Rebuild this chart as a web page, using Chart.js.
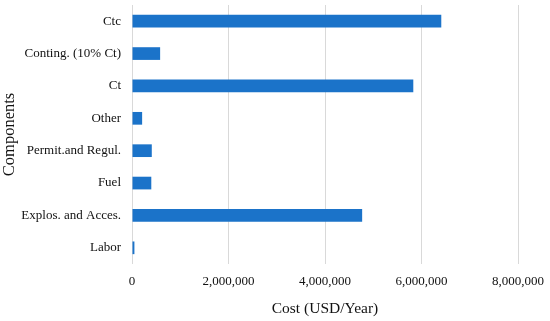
<!DOCTYPE html>
<html>
<head>
<meta charset="UTF-8">
<title>Cost components</title>
<script src="https://cdn.jsdelivr.net/npm/chart.js@4"></script>
<style>
  html, body { margin: 0; padding: 0; background: #fff; }
</style>
</head>
<body>
<canvas id="grafico" width="550" height="321"></canvas>
<script>
  // categories, top to bottom
  var componentes = ["Ctc", "Conting. (10% Ct)", "Ct", "Other", "Permit.and Regul.", "Fuel", "Explos. and Acces.", "Labor"];
  // cost in USD/year
  var custos = [6410000, 583000, 5830000, 210000, 410000, 400000, 4770000, 50000];
  var xTicks = [0, 2000000, 4000000, 6000000, 8000000];

  var fonte = "'Liberation Serif', 'Times New Roman', serif";

  var ctx = document.getElementById("grafico");
  new Chart(ctx, {
    type: 'bar',
    data: {
      labels: componentes,
      datasets: [{
        data: custos,
        backgroundColor: "#1b73c9",
        borderWidth: 0,
        categoryPercentage: 0.8,
        barPercentage: 0.49
      }]
    },
    options: {
      indexAxis: 'y',
      responsive: false,
      animation: false,
      devicePixelRatio: 1,
      layout: { padding: { top: 5, right: 0, bottom: 0, left: 0 } },
      plugins: { legend: { display: false }, tooltip: { enabled: false } },
      scales: {
        x: {
          min: 0, max: 8000000,
          afterBuildTicks: function(axis) { axis.ticks = xTicks.map(function(v) { return { value: v }; }); },
          afterFit: function(s) { s.height = 57; s.paddingRight = 32; s.paddingLeft = 0; },
          grid: { color: "#d9d9d9", drawTicks: false, lineWidth: 1 },
          border: { display: false },
          ticks: {
            color: "#111", padding: 10,
            font: { family: fonte, size: 13 },
            callback: function(v) { return Number(v).toLocaleString('en-US'); }
          },
          title: { display: true, text: "Cost (USD/Year)", color: "#111", font: { family: fonte, size: 15.5 }, padding: { top: 0, bottom: 3 } }
        },
        y: {
          afterFit: function(s) { s.width = 132; s.paddingTop = 0; s.paddingBottom = 0; },
          grid: { display: false, drawTicks: false },
          border: { display: false },
          ticks: { color: "#111", padding: 11, font: { family: fonte, size: 13 } },
          title: { display: true, text: "Components", color: "#111", font: { family: fonte, size: 16.5 }, padding: { top: 0, bottom: 3 } }
        }
      }
    }
  });
</script>
</body>
</html>
